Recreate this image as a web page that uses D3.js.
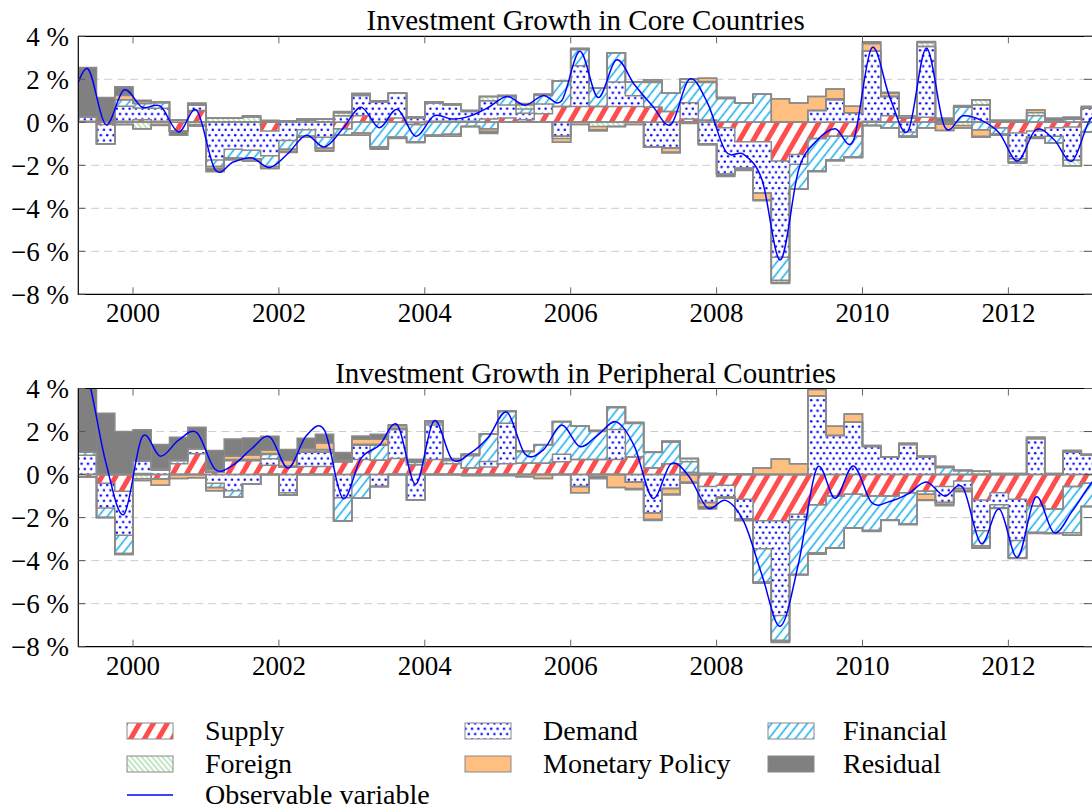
<!DOCTYPE html>
<html>
<head>
<meta charset="utf-8">
<script src="https://cdn.jsdelivr.net/npm/d3@7"></script>
<style>
  body { margin: 0; background: #fff; }
  svg text { font-family: "Liberation Serif", "Times New Roman", serif; fill: #000; }
</style>
</head>
<body>
<svg id="chart" width="1092" height="810"></svg>
<script>
// quarters shown as bars (1999Q2 .. 2013Q1)
const quarters = [
  "1999Q2","1999Q3","1999Q4",
  "2000Q1","2000Q2","2000Q3","2000Q4","2001Q1","2001Q2","2001Q3","2001Q4",
  "2002Q1","2002Q2","2002Q3","2002Q4","2003Q1","2003Q2","2003Q3","2003Q4",
  "2004Q1","2004Q2","2004Q3","2004Q4","2005Q1","2005Q2","2005Q3","2005Q4",
  "2006Q1","2006Q2","2006Q3","2006Q4","2007Q1","2007Q2","2007Q3","2007Q4",
  "2008Q1","2008Q2","2008Q3","2008Q4","2009Q1","2009Q2","2009Q3","2009Q4",
  "2010Q1","2010Q2","2010Q3","2010Q4","2011Q1","2011Q2","2011Q3","2011Q4",
  "2012Q1","2012Q2","2012Q3","2012Q4","2013Q1"
];
// the observable line has one extra quarter at each end
const lineQuarters = ["1999Q1"].concat(quarters, ["2013Q2"]);

const seriesNames = ["Supply", "Demand", "Financial", "Foreign", "Monetary Policy", "Residual"];
const yTicks = [4, 2, 0, -2, -4, -6, -8];
const xTicks = [2000, 2002, 2004, 2006, 2008, 2010, 2012];

// Core countries
const coreSupply = [0.05,-0.1,0.05,0.12,0.05,-0.4,0.55,0,0,0, -0.4,0.05,0.1,0,-0.3,0.3,0,0.2,-0.1,0.05,
  0.05,0.05,0.15,0.2,0.12,0.4,0.73,0.73,0.73,0.73, 0.73,0.7,0.5,0.15,0.1,-0.25,-0.9,-0.9,-1.8,-1.5,
  -0.75,-0.65,-0.65,0.05,0.3,0.2,0.23,-0.03,0,0, -0.25,-0.5,-0.4,-0.25,-0.22,0];
const coreDemand = [0.2,-0.9,0.7,0.55,0.6,0.1,0.25,-1.75,-1.25,-1.3, -1.15,-0.85,-0.35,-0.7,0.3,0.95,0.95,1.15,0.2,0.85,
  0.75,0.45,0.85,0.6,0.3,0.45,-0.65,1.9,0,1.15, 0.5,-1.15,-1.2,0.76,-1.0,-2.17,-1.24,-2.4,-4.48,-0.45,
  0.55,1.05,0.45,3.25,0.9,-0.45,3.3,-0.05,0,0.8, 0,-1.2,-0.3,-0.4,-1.55,0.65];
const coreFinancial = [0,0,0.3,0.2,0.25,0,0,-0.3,-0.4,-0.4, -0.5,-0.4,-0.3,-0.5,-0.3,-0.5,-1.15,-0.7,-0.8,-0.6,
  -0.55,-0.2,-0.3,0.4,0.2,0.4,1.2,0.75,0.85,1.35, 0.65,1.15,0.85,0.95,1.75,1.1,0.9,1.3,-1.07,-1.15,
  -1.5,-1.1,-0.95,-0.15,-0.25,-0.2,-0.25,0,0.7,-0.35, -0.3,-0.15,0.3,-0.3,0.15,-0.45];
const coreForeign = [0,0,-0.1,-0.3,0.05,0,-0.1,0.2,0.2,0.25, 0.05,0,0.05,0.15,0.15,0.05,0.05,0,0.05,0.05,
  0.05,0.05,0.2,0.05,0.2,0.05,-0.1,0.05,-0.2,-0.2, 0,0.05,0,0.15,0.05,0.05,0,0,-0.1,0,
  0,0.05,0,0,0,0,0.18,0,-0.15,0.25, 0,0,0.15,0,-0.25,0];
const coreMonetary = [0,0,0.2,0.1,-0.1,0,-0.07,-0.1,-0.05,-0.1, -0.1,-0.1,0,-0.1,0,-0.1,0,0,0,0,
  -0.1,0,-0.12,0,0,0,-0.18,-0.1,-0.15,0, -0.1,0.08,-0.18,0,0.15,0,-0.05,-0.3,1.1,0.9,
  0.65,0.45,0.3,0.35,0.15,0.1,0,-0.3,-0.12,-0.3, 0.1,0.1,0.12,0.1,0,0.05];
const coreResidual = [2.3,1.15,0.4,0.05,-0.05,-0.2,0.1,-0.15,-0.05,0.05, 0.05,-0.05,-0.05,-0.05,0.05,0.05,-0.1,-0.05,-0.05,-0.05,
  0,0,-0.1,0,0.05,0,0,0,-0.05,0, 0,0,-0.05,-0.05,-0.05,-0.1,-0.05,-0.05,-0.05,0,
  -0.05,-0.05,-0.05,0.1,0.05,-0.05,0.05,0.2,0.08,-0.05, -0.05,-0.05,-0.05,0.1,0.1,0.05];
const coreObserved = [0.6,
  2.5,-0.1,1.5,0.7,0.75,-0.45,0.55,-2.2,-1.85,-1.65, -2.1,-1.45,-0.6,-1.15,-0.3,0.7,-0.25,0.6,-0.65,0.3,
  0.15,0.3,0.7,1.2,0.8,1.25,1.0,3.3,1.15,2.9, 1.75,0.75,-0.1,2.0,0.9,-1.35,-1.5,-2.7,-6.4,-2.2,
  -0.85,-0.3,-0.85,3.45,1.15,-0.4,3.45,-0.2,0.3,0.1, -0.5,-1.8,-0.35,-0.8,-1.8,0.15,
  0.3];

// Peripheral countries
const periSupply = [-0.1,-0.4,-0.77,0.05,-0.2,0.5,0.97,0.12,0.65,0.65, 0.43,0.35,0.38,0.38,0.6,0.7,0.66,0.75,0.46,0.7,
  0.5,0.3,0.35,0.5,0.53,0.53,0.6,0.7,0.7,0.7, 0.82,0.3,0.5,0.1,-0.55,-0.5,-1.15,-2.15,-2.15,-1.85,
  -1.4,-1.0,-0.92,-1.0,-1.0,-0.85,-0.77,-0.55,-0.3,-1.18, -0.85,-1.15,-1.46,-1.6,-0.55,-0.4];
const periDemand = [0.9,-1.15,-2.05,0.58,0.2,0.15,0.23,-0.4,-0.75,-0.45, 0.3,-0.85,0.66,0.66,-1.08,0.66,-0.55,1.35,-1.18,1.6,
  0.15,0,0.26,1.88,0,0,0.35,-0.55,0,1.4, -0.35,-1.78,-0.65,0,-0.75,-0.55,-0.9,-1.3,-4.4,-0.25,
  3.65,1.82,2.43,1.3,0.8,1.4,0.8,-0.75,-0.35,-1.43, -0.55,-1.92,1.66,0,1.05,0.9];
const periFinancial = [0.15,-0.45,-0.85,0,0,0,0,-0.2,-0.3,0, 0.2,-0.1,0,0.05,-1.08,-1.1,0.7,0,0.1,0.1,
  0,0.58,1.28,0.54,0.54,0.85,1.5,1.55,1.3,1.0, 1.55,0.72,1.0,0.5,0,0,0,-1.55,-1.15,-2.55,
  -2.25,-2.4,-1.55,-1.6,-1.1,-1.45,-0.15,0.32,0.17,-0.7, -0.15,-0.8,-1.23,-1.1,-2.15,-1.08];
const periForeign = [0,0,0,-0.2,0.05,0,0,0.1,0.05,0.05, 0.05,0.05,0.05,0.08,0.05,0.05,0.05,0.05,0.05,0.05,
  0.05,0.07,0,0.05,0,0,0,0,0.05,0.05, 0.05,0.03,0.05,0.15,0.05,0.03,0.03,0,-0.05,0,
  0,0,0,0,0,0,0.05,0.05,0.03,0.15, 0.03,0.03,0.05,0.02,-0.12,0];
const periMonetary = [0,0,-0.05,-0.08,-0.3,-0.18,-0.15,-0.15,0.15,0.2, 0.15,0.25,0.1,0.28,0,0.23,0.23,0.12,0,0,
  0,0,0,0,-0.1,-0.18,0,-0.3,-0.1,-0.6, -0.3,-0.3,-0.25,-0.35,-0.2,0,-0.05,0.3,0.72,0.5,
  0.3,0.42,0.38,0.05,0.03,0.05,-0.25,-0.1,-0.1,-0.08, 0.02,0.02,0.03,0.03,0.05,0.03];
const periResidual = [3.2,2.85,2.0,1.45,1.15,1.08,1.0,0.9,0.8,0.8, 0.65,0.52,0.5,0.42,0.38,0.15,0.23,0.05,0.1,0.05,
  0.05,-0.05,-0.05,-0.05,0.03,0.02,0.03,0.02,-0.1,0, -0.05,-0.05,-0.05,-0.05,-0.1,-0.05,-0.05,-0.05,-0.05,-0.02,
  -0.05,-0.03,-0.03,-0.05,-0.03,-0.03,-0.03,-0.05,-0.05,-0.03, -0.03,-0.03,-0.05,-0.05,0.03,0.03];
const periObserved = [6.0,
  4.6,0.6,-1.85,1.75,0.85,1.6,1.95,0.25,0.45,1.2, 1.75,0.3,1.8,2.05,-1.1,0.75,1.35,2.3,-0.45,2.5,
  0.7,1.0,1.75,2.9,0.95,1.15,2.3,1.3,1.85,2.45, 1.3,-1.1,0.5,-0.1,-1.55,-1.2,-2.2,-4.7,-7.05,-4.1,
  0.3,-1.1,0.4,-1.3,-1.25,-0.9,-0.35,-1.0,-0.6,-3.2, -1.6,-3.85,-1.05,-2.7,-1.7,-0.45,
  0.5];

// ---------------------------------------------------------------
const svg = d3.select("#chart");
const toTime = q => +q.slice(0, 4) + (+q.slice(5) - 1) / 4;
const quarterLen = 0.25;

const X0 = 78.3, X1 = 1093;
const x = d3.scaleLinear().domain([1999.25, 2013.16]).range([X0, X1]);

const fills = ["url(#pSupply)", "url(#pDemand)", "url(#pFinancial)", "url(#pForeign)", "#ffbf80", "#808080"];
const outline = "#8a8a8a";

// patterns
const defs = svg.append("defs");
const sup = defs.append("pattern").attr("id", "pSupply").attr("patternUnits", "userSpaceOnUse")
  .attr("width", 12).attr("height", 12).attr("patternTransform", "rotate(30)");
sup.append("rect").attr("width", 12).attr("height", 12).attr("fill", "#fff");
sup.append("rect").attr("width", 5).attr("height", 12).attr("fill", "#ff4d4d");

const dem = defs.append("pattern").attr("id", "pDemand").attr("patternUnits", "userSpaceOnUse")
  .attr("width", 6.4).attr("height", 10.6);
dem.append("rect").attr("width", 6.4).attr("height", 10.6).attr("fill", "#fff");
dem.append("circle").attr("cx", 1.6).attr("cy", 2.65).attr("r", 1.2).attr("fill", "#0000ff");
dem.append("circle").attr("cx", 4.8).attr("cy", 7.95).attr("r", 1.2).attr("fill", "#0000ff");

const fin = defs.append("pattern").attr("id", "pFinancial").attr("patternUnits", "userSpaceOnUse")
  .attr("width", 7).attr("height", 7).attr("patternTransform", "rotate(38)");
fin.append("rect").attr("width", 7).attr("height", 7).attr("fill", "#fff");
fin.append("line").attr("x1", 3.5).attr("x2", 3.5).attr("y1", 0).attr("y2", 7)
  .attr("stroke", "#12acea").attr("stroke-width", 1.5);

const frg = defs.append("pattern").attr("id", "pForeign").attr("patternUnits", "userSpaceOnUse")
  .attr("width", 4).attr("height", 4).attr("patternTransform", "rotate(-40)");
frg.append("rect").attr("width", 4).attr("height", 4).attr("fill", "#fff");
frg.append("line").attr("x1", 2).attr("x2", 2).attr("y1", 0).attr("y2", 4)
  .attr("stroke", "#66c266").attr("stroke-width", 0.8);

const panels = [
  { title: "Investment Growth in Core Countries", top: 36.3, bottom: 294.3,
    series: [coreSupply, coreDemand, coreFinancial, coreForeign, coreMonetary, coreResidual],
    observed: coreObserved },
  { title: "Investment Growth in Peripheral Countries", top: 388.5, bottom: 646.7,
    series: [periSupply, periDemand, periFinancial, periForeign, periMonetary, periResidual],
    observed: periObserved }
];

panels.forEach((p, pi) => {
  const y = d3.scaleLinear().domain([-8, 4]).range([p.bottom, p.top]);
  const g = svg.append("g");

  const clipId = "clip" + pi;
  defs.append("clipPath").attr("id", clipId).append("rect")
    .attr("x", X0).attr("y", p.top).attr("width", X1 - X0).attr("height", p.bottom - p.top);

  // grid
  g.append("g").selectAll("line").data(yTicks.filter(v => v !== 4 && v !== -8 && v !== 0)).enter()
    .append("line")
    .attr("x1", X0).attr("x2", X1).attr("y1", d => y(d)).attr("y2", d => y(d))
    .attr("stroke", "#cccccc").attr("stroke-width", 1).attr("stroke-dasharray", "8,5");

  // stacking: positives and negatives stacked separately, in legend order
  const segs = [];
  const posLevels = seriesNames.map(() => []);
  const negLevels = seriesNames.map(() => []);
  quarters.forEach((q, i) => {
    let pos = 0, neg = 0;
    p.series.forEach((vals, k) => {
      const v = vals[i];
      if (v >= 0) { segs.push({ k, t: toTime(q), y0: pos, y1: pos + v }); pos += v; }
      else { segs.push({ k, t: toTime(q), y0: neg, y1: neg + v }); neg += v; }
      posLevels[k].push(pos);
      negLevels[k].push(neg);
    });
  });

  const body = g.append("g").attr("clip-path", `url(#${clipId})`);
  body.selectAll("rect.seg").data(segs.filter(s => s.y0 !== s.y1)).enter()
    .append("rect").attr("class", "seg")
    .attr("x", d => x(d.t))
    .attr("width", d => x(d.t + quarterLen) - x(d.t) + 0.4)
    .attr("y", d => y(Math.max(d.y0, d.y1)))
    .attr("height", d => Math.abs(y(d.y0) - y(d.y1)))
    .attr("fill", d => fills[d.k]);

  // step outlines of every stack level
  const step = d3.line().curve(d3.curveStepAfter).x(d => x(d[0])).y(d => y(d[1]));
  const stepPts = lv => {
    const pts = quarters.map((q, i) => [toTime(q), lv[i]]);
    pts.push([toTime(quarters[quarters.length - 1]) + quarterLen, lv[lv.length - 1]]);
    return pts;
  };
  const levels = [quarters.map(() => 0)].concat(posLevels, negLevels);
  body.selectAll("path.lvl").data(levels).enter()
    .append("path").attr("class", "lvl")
    .attr("d", lv => step(stepPts(lv)))
    .attr("fill", "none").attr("stroke", outline).attr("stroke-width", 1.5);

  // observable variable
  const obsLine = d3.line().curve(d3.curveCardinal.tension(0))
    .x((d, i) => x(toTime(lineQuarters[i]) + quarterLen / 2)).y(d => y(d));
  body.append("path").attr("d", obsLine(p.observed))
    .attr("fill", "none").attr("stroke", "#0000ff").attr("stroke-width", 1.5);

  // frame
  g.append("path")
    .attr("d", `M${X1},${p.top}H${X0}V${p.bottom}H${X1}`)
    .attr("fill", "none").attr("stroke", "#000").attr("stroke-width", 1.2);

  // ticks
  g.append("g").selectAll("path").data(yTicks).enter().append("path")
    .attr("d", d => `M${X0},${y(d)}h7M${X1},${y(d)}h-9`)
    .attr("stroke", "#555").attr("stroke-width", 1);
  g.append("g").selectAll("path").data(xTicks).enter().append("path")
    .attr("d", d => `M${x(d)},${p.bottom}v-7M${x(d)},${p.top}v7`)
    .attr("stroke", "#666").attr("stroke-width", 1);

  // labels
  g.append("g").selectAll("text").data(yTicks).enter().append("text")
    .attr("x", 69).attr("y", d => y(d)).attr("dy", "0.35em")
    .attr("text-anchor", "end").attr("font-size", 27)
    .text(d => (d < 0 ? "\u2212" + Math.abs(d) : d) + " %");
  g.append("g").selectAll("text").data(xTicks).enter().append("text")
    .attr("x", d => x(d)).attr("y", p.bottom + 28)
    .attr("text-anchor", "middle").attr("font-size", 27)
    .text(d => d);
  g.append("text")
    .attr("x", (X0 + X1) / 2).attr("y", p.top - 6)
    .attr("text-anchor", "middle").attr("font-size", 29)
    .text(p.title);
});

// legend
const legendItems = [
  { name: "Supply", fill: fills[0], col: 0, row: 0 },
  { name: "Demand", fill: fills[1], col: 1, row: 0 },
  { name: "Financial", fill: fills[2], col: 2, row: 0 },
  { name: "Foreign", fill: fills[3], col: 0, row: 1 },
  { name: "Monetary Policy", fill: fills[4], col: 1, row: 1 },
  { name: "Residual", fill: fills[5], col: 2, row: 1 },
  { name: "Observable variable", line: true, col: 0, row: 2 }
];
const colSwatch = [127, 465, 768], colText = [205, 543, 843], rowY = [731, 764, 795];
const lg = svg.append("g").selectAll("g").data(legendItems).enter().append("g");
lg.filter(d => !d.line).append("rect")
  .attr("x", d => colSwatch[d.col]).attr("y", d => rowY[d.row] - 8)
  .attr("width", 46).attr("height", 16)
  .attr("fill", d => d.fill).attr("stroke", outline).attr("stroke-width", 1);
lg.filter(d => d.line).append("line")
  .attr("x1", d => colSwatch[d.col]).attr("x2", d => colSwatch[d.col] + 46)
  .attr("y1", d => rowY[d.row]).attr("y2", d => rowY[d.row])
  .attr("stroke", "#0000ff").attr("stroke-width", 1.5);
lg.append("text")
  .attr("x", d => colText[d.col]).attr("y", d => rowY[d.row]).attr("dy", "0.33em")
  .attr("font-size", 28)
  .text(d => d.name);
</script>
</body>
</html>
